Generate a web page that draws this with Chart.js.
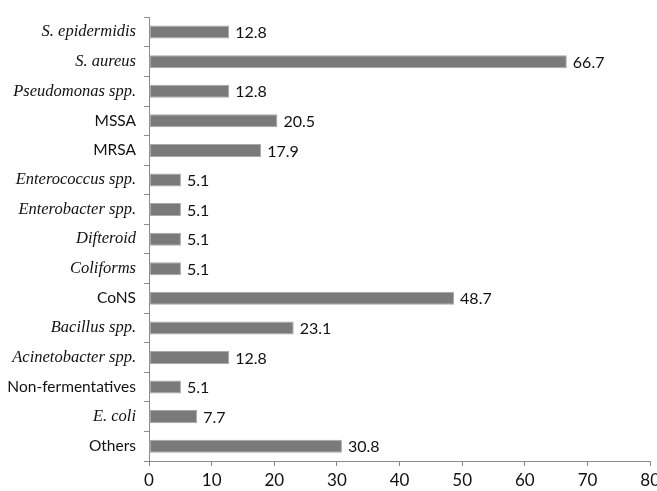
<!DOCTYPE html>
<html>
<head>
<meta charset="utf-8">
<script src="https://cdn.jsdelivr.net/npm/chart.js@4"></script>
<style>
  html, body { margin: 0; padding: 0; background: #fff; overflow: hidden; width: 657px; height: 491px; }
  #wrap { position: relative; width: 664px; height: 491px; }
</style>
</head>
<body>
<div id="wrap"><canvas id="c"></canvas></div>
<script>
const categories = ["S. epidermidis", "S. aureus", "Pseudomonas spp.", "MSSA", "MRSA",
  "Enterococcus spp.", "Enterobacter spp.", "Difteroid", "Coliforms", "CoNS",
  "Bacillus spp.", "Acinetobacter spp.", "Non-fermentatives", "E. coli", "Others"];
const values = [12.8, 66.7, 12.8, 20.5, 17.9, 5.1, 5.1, 5.1, 5.1, 48.7, 23.1, 12.8, 5.1, 7.7, 30.8];
const italicLabels = [true, true, true, false, false, true, true, true, true, false, true, true, false, true, false];
const xTicks = [0, 10, 20, 30, 40, 50, 60, 70, 80];

const sansFont = "Lato, 'Open Sans', 'Liberation Sans', sans-serif";
const serifFont = "'Liberation Serif', 'DejaVu Serif', serif";

const valueLabels = {
  id: 'valueLabels',
  afterDatasetsDraw(chart) {
    const ctx = chart.ctx;
    const meta = chart.getDatasetMeta(0);
    ctx.save();
    ctx.font = "16px " + sansFont;
    ctx.fillStyle = '#111';
    ctx.textAlign = 'left';
    ctx.textBaseline = 'middle';
    meta.data.forEach((bar, i) => {
      ctx.fillText(values[i].toFixed(1), bar.x + 6, bar.y + 1);
    });
    ctx.restore();
  }
};

new Chart(document.getElementById('c'), {
  type: 'bar',
  data: {
    labels: categories,
    datasets: [{
      data: values,
      backgroundColor: '#7a7a7a',
      borderColor: '#a9a9a9',
      borderWidth: 1,
      borderSkipped: false,
      barPercentage: 0.44,
      categoryPercentage: 1.0
    }]
  },
  options: {
    indexAxis: 'y',
    responsive: true,
    maintainAspectRatio: false,
    animation: false,
    devicePixelRatio: 1,
    layout: { padding: { top: 10, left: 0, right: 0, bottom: 0 } },
    plugins: { legend: { display: false }, tooltip: { enabled: false } },
    scales: {
      x: {
        min: 0,
        max: 80,
        afterBuildTicks(scale) { scale.ticks = xTicks.map(v => ({ value: v })); },
        afterFit(scale) { scale.height = 30; },
        grid: { drawOnChartArea: false, drawTicks: true, tickLength: 5, color: '#8c8c8c' },
        border: { display: true, color: '#8c8c8c', width: 1 },
        ticks: {
          color: '#111',
          padding: 4,
          maxRotation: 0,
          font: { family: sansFont, size: 17 }
        }
      },
      y: {
        afterFit(scale) { scale.width = 149; },
        grid: { drawOnChartArea: false, drawTicks: true, tickLength: 5, color: '#8c8c8c', offset: true },
        border: { display: true, color: '#8c8c8c', width: 1 },
        ticks: {
          color: '#111',
          padding: 8,
          autoSkip: false,
          font: (ctx) => italicLabels[ctx.index]
            ? { family: serifFont, size: 16.5, style: 'italic', weight: 'normal' }
            : { family: sansFont, size: 15.5, weight: 'normal' }
        }
      }
    }
  },
  plugins: [valueLabels]
});
</script>
</body>
</html>
